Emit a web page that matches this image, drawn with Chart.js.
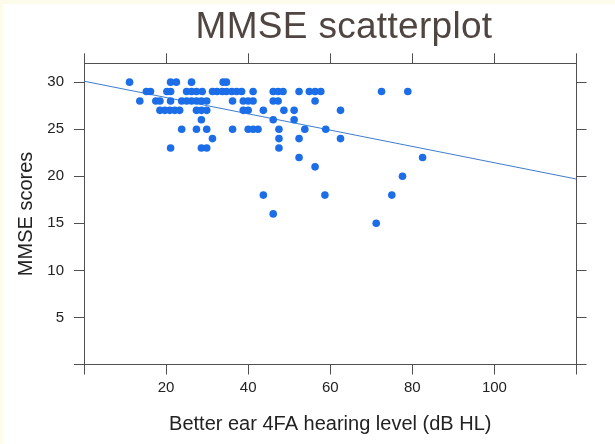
<!DOCTYPE html>
<html>
<head>
<meta charset="utf-8">
<script src="https://cdn.jsdelivr.net/npm/chart.js@4"></script>
<style>
  html, body { margin: 0; padding: 0; background: #fdfcea; }
  body { width: 615px; height: 444px; position: relative; overflow: hidden; }
  .panel { position: absolute; left: 3px; top: 4px; width: 612px; height: 440px; background: #fff; }
  .title {
    position: absolute; left: 344px; top: 7px; transform: translateX(-50%);
    font: 37px/37px "Liberation Sans", Arial, sans-serif; letter-spacing: 0.3px;
    color: #4f4541; white-space: nowrap;
  }
  canvas { display: block; }
</style>
</head>
<body>
<div class="panel"><canvas id="chart" width="612" height="440"></canvas></div>
<div class="title">MMSE scatterplot</div>
<script>
// ─── DATA ─────────────────────────────────────────────────────────
// hearing level (dB HL) and MMSE score, one pair per participant
const hearingLevel = [
    11.1, 21.1, 22.5, 26.2, 33.9, 34.7,
    15.2, 16.2, 20.2, 21.1, 25, 26.2, 27.4, 28.8, 31.3, 32.4, 33.7, 34.7, 36, 37.2, 38.4,
    41.2, 46.1, 47.3, 48.5, 52.4, 54.9, 56.3, 57.7, 72.5, 78.9,
    13.6, 17.5, 18.5, 21.1, 23.8, 25, 26.2, 27.4, 28.6, 29.9, 36.2, 38.8, 40, 41.2, 46.1, 47.3, 56.3,
    18.5, 19.7, 20.9, 22.1, 23.3, 27.4, 28.6, 29.9, 38.8, 40, 43.7, 48.7, 51.2, 62.5,
    28.6, 46.1, 51.2,
    23.8, 27.4, 29.9, 36.2, 40, 41.2, 42.4, 47.5, 53.8, 58.9,
    31.3, 47.5, 52.4, 62.5,
    21.1, 28.6, 29.9, 47.5,
    52.4, 82.5,
    56.3,
    77.6,
    43.7, 58.7, 75,
    46.1,
    71.2
];
const mmseScore = [
    30, 30, 30, 30, 30, 30,
    29, 29, 29, 29, 29, 29, 29, 29, 29, 29, 29, 29, 29, 29, 29,
    29, 29, 29, 29, 29, 29, 29, 29, 29, 29,
    28, 28, 28, 28, 28, 28, 28, 28, 28, 28, 28, 28, 28, 28, 28, 28, 28,
    27, 27, 27, 27, 27, 27, 27, 27, 27, 27, 27, 27, 27, 27,
    26, 26, 26,
    25, 25, 25, 25, 25, 25, 25, 25, 25, 25,
    24, 24, 24, 24,
    23, 23, 23, 23,
    22, 22,
    21,
    20,
    18, 18, 18,
    16,
    15
];
// fitted line end points
const fitX = [0, 120];
const fitY = [30.1, 19.7];

const xTicks = [0, 20, 40, 60, 80, 100, 120];
const xTickLabels = ['', '20', '40', '60', '80', '100', ''];
const yTicks = [0, 5, 10, 15, 20, 25, 30];
const yTickLabels = ['', '5', '10', '15', '20', '25', '30'];

// ─── CHART ────────────────────────────────────────────────────────
Chart.defaults.font.family = '"Liberation Sans", Arial, sans-serif';
Chart.defaults.color = '#222';

const AXIS = '#505050';

function frame(extra) {
    return Object.assign({
        grid: { drawOnChartArea: false, drawTicks: true, tickLength: 10, color: AXIS, lineWidth: 1 },
        border: { display: true, color: AXIS, width: 1 }
    }, extra);
}

function fixTicks(values) {
    return scale => { scale.ticks = values.map(v => ({ value: v })); };
}

new Chart(document.getElementById('chart'), {
    type: 'scatter',
    data: {
        datasets: [
            {
                data: hearingLevel.map((x, i) => ({ x, y: mmseScore[i] })),
                backgroundColor: '#1b6de8', borderColor: '#1b6de8',
                pointRadius: 3.8, borderWidth: 0
            },
            {
                type: 'line',
                data: fitX.map((x, i) => ({ x, y: fitY[i] })),
                borderColor: '#3f7ccc', borderWidth: 1, pointRadius: 0, fill: false
            }
        ]
    },
    options: {
        responsive: false, animation: false,
        layout: { padding: 0 },
        plugins: { legend: { display: false }, tooltip: { enabled: false }, title: { display: false } },
        scales: {
            x: frame({
                type: 'linear', position: 'bottom', min: 0, max: 120,
                afterBuildTicks: fixTicks(xTicks),
                afterFit: s => { s.height = 79.5; },
                ticks: { font: { size: 15 }, padding: 4, maxRotation: 0, autoSkip: false,
                         callback: (v, i) => xTickLabels[i] },
                title: { display: true, text: 'Better ear 4FA hearing level (dB HL)',
                         font: { size: 20 }, padding: { top: 0, bottom: 8 } }
            }),
            x2: frame({
                type: 'linear', position: 'top', min: 0, max: 120, display: true,
                afterBuildTicks: fixTicks(xTicks),
                afterFit: s => { s.height = 59.3; },
                ticks: { display: false }
            }),
            y: frame({
                type: 'linear', position: 'left', min: 0, max: 32,
                afterBuildTicks: fixTicks(yTicks),
                afterFit: s => { s.width = 81; },
                ticks: { font: { size: 15 }, padding: 10, autoSkip: false,
                         callback: (v, i) => yTickLabels[i] },
                title: { display: true, text: 'MMSE scores',
                         font: { size: 20 }, padding: { top: 11, bottom: 0 } }
            }),
            y2: frame({
                type: 'linear', position: 'right', min: 0, max: 32, display: true,
                afterBuildTicks: fixTicks(yTicks),
                afterFit: s => { s.width = 38.5; },
                ticks: { display: false }
            })
        }
    }
});
</script>
</body>
</html>
